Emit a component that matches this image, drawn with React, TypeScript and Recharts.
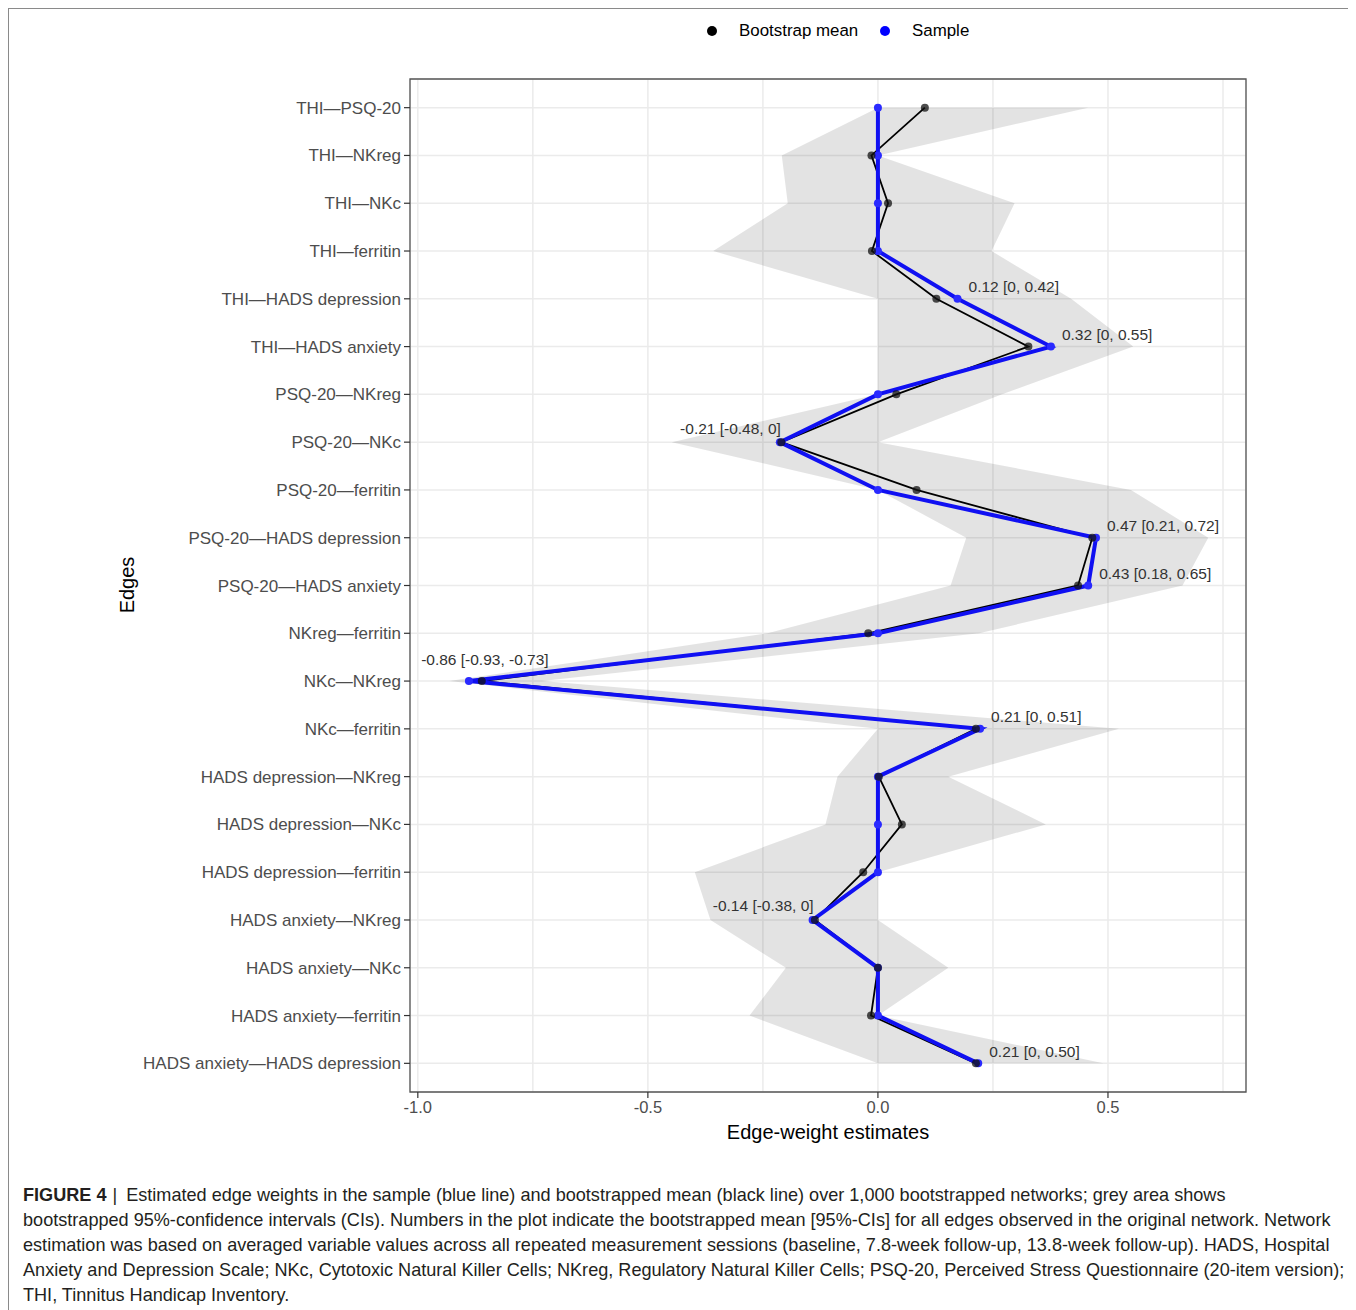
import React from 'react';
import {
  ComposedChart,
  Area,
  Line,
  XAxis,
  YAxis,
  CartesianGrid,
  ReferenceArea,
  LabelList,
} from 'recharts';

// ---------- data ----------
const EDGES = [
  'THI\u2014PSQ-20',
  'THI\u2014NKreg',
  'THI\u2014NKc',
  'THI\u2014ferritin',
  'THI\u2014HADS depression',
  'THI\u2014HADS anxiety',
  'PSQ-20\u2014NKreg',
  'PSQ-20\u2014NKc',
  'PSQ-20\u2014ferritin',
  'PSQ-20\u2014HADS depression',
  'PSQ-20\u2014HADS anxiety',
  'NKreg\u2014ferritin',
  'NKc\u2014NKreg',
  'NKc\u2014ferritin',
  'HADS depression\u2014NKreg',
  'HADS depression\u2014NKc',
  'HADS depression\u2014ferritin',
  'HADS anxiety\u2014NKreg',
  'HADS anxiety\u2014NKc',
  'HADS anxiety\u2014ferritin',
  'HADS anxiety\u2014HADS depression',
];

const SAMPLE = [0, 0, 0, 0, 0.173, 0.376, 0, -0.213, 0, 0.474, 0.457, 0, -0.889, 0.222, 0, 0, 0, -0.142, 0, 0, 0.218];
const BOOT = [0.102, -0.014, 0.022, -0.013, 0.127, 0.327, 0.04, -0.21, 0.084, 0.466, 0.435, -0.021, -0.861, 0.213, 0.002, 0.052, -0.032, -0.137, 0, -0.015, 0.213];
const CI_LOW = [0, -0.209, -0.196, -0.358, 0, 0, 0, -0.448, 0, 0.192, 0.158, -0.24, -0.932, 0, -0.088, -0.114, -0.398, -0.364, -0.2, -0.279, 0];
const CI_HIGH = [0.457, 0, 0.297, 0.247, 0.42, 0.555, 0.27, 0, 0.55, 0.718, 0.662, 0.22, -0.73, 0.524, 0.153, 0.365, 0, 0, 0.153, 0, 0.49];

const LABELS = [
  '', '', '', '',
  '0.12 [0, 0.42]',
  '0.32 [0, 0.55]',
  '',
  '-0.21 [-0.48, 0]',
  '',
  '0.47 [0.21, 0.72]',
  '0.43 [0.18, 0.65]',
  '',
  '-0.86 [-0.93, -0.73]',
  '0.21 [0, 0.51]',
  '', '', '',
  '-0.14 [-0.38, 0]',
  '', '',
  '0.21 [0, 0.50]',
];

const X_TICKS = [-1, -0.75, -0.5, -0.25, 0, 0.25, 0.5, 0.75];
const X_MAJOR = [-1, -0.5, 0, 0.5];
const X_DOMAIN: [number, number] = [-1.017, 0.8];
const Y_TICKS = EDGES.map((_, i) => i);
const Y_DOMAIN: [number, number] = [-0.6, EDGES.length - 1 + 0.6];

const CAPTION_LINES = [
  'Estimated edge weights in the sample (blue line) and bootstrapped mean (black line) over 1,000 bootstrapped networks; grey area shows',
  'bootstrapped 95%-confidence intervals (CIs). Numbers in the plot indicate the bootstrapped mean [95%-CIs] for all edges observed in the original network. Network',
  'estimation was based on averaged variable values across all repeated measurement sessions (baseline, 7.8-week follow-up, 13.8-week follow-up). HADS, Hospital',
  'Anxiety and Depression Scale; NKc, Cytotoxic Natural Killer Cells; NKreg, Regulatory Natural Killer Cells; PSQ-20, Perceived Stress Questionnaire (20-item version);',
  'THI, Tinnitus Handicap Inventory.',
];

const data = EDGES.map((edge, i) => ({
  idx: i,
  edge,
  sample: SAMPLE[i],
  boot: BOOT[i],
  ci: [CI_LOW[i], CI_HIGH[i]],
}));

// ---------- styling ----------
const FONT = '"Liberation Sans", Arial, Helvetica, sans-serif';
const AXIS_TEXT = '#4d4d4d';

const XTick = (props: any) => {
  const { x, y, payload } = props;
  const v = payload.value as number;
  if (!X_MAJOR.some((m) => Math.abs(m - v) < 1e-9)) return <g />;
  return (
    <g>
      <line x1={x} x2={x} y1={y - 9} y2={y - 3} stroke="#333" strokeWidth={1.2} />
      <text x={x} y={y} dy="0.71em" textAnchor="middle" fill={AXIS_TEXT} fontSize={16.5} fontFamily={FONT}>
        {v.toFixed(1)}
      </text>
    </g>
  );
};

const renderLabel = (p: any) => {
  const i = p.index;
  const t = LABELS[i];
  if (!t) return null;
  const v = SAMPLE[i];
  let anchor: 'start' | 'end' | 'middle' = 'start';
  let dx = 11;
  let dy = -12;
  if (v < -0.5) {
    anchor = 'middle';
    dx = 16;
    dy = -22;
  } else if (v < 0) {
    anchor = 'end';
    dx = 1;
    dy = -14;
  }
  return (
    <text
      key={`lbl-${i}`}
      x={p.x + dx}
      y={p.y + dy}
      textAnchor={anchor}
      dominantBaseline="central"
      fontSize={15.5}
      fill="#333"
      fontFamily={FONT}
    >
      {t}
    </text>
  );
};

export default function App() {
  return (
    <div style={{ position: 'relative', width: 1346, height: 1302, fontFamily: FONT }}>
      {/* figure frame */}
      <div
        style={{
          position: 'absolute',
          left: -1,
          top: -1,
          width: 1348,
          height: 1304,
          borderTop: '2px solid #8a8a8a',
          borderLeft: '2px solid #8a8a8a',
          borderRight: '2px solid #8a8a8a',
          boxSizing: 'border-box',
        }}
      />

      {/* legend */}
      <div style={{ position: 'absolute', left: 699, top: 18, width: 10, height: 10, borderRadius: 5, background: '#000' }} />
      <div style={{ position: 'absolute', left: 731, top: 12, fontSize: 16.9, color: '#000', lineHeight: '22px', whiteSpace: 'nowrap' }}>
        Bootstrap mean
      </div>
      <div style={{ position: 'absolute', left: 872, top: 18, width: 10, height: 10, borderRadius: 5, background: '#0000ff' }} />
      <div style={{ position: 'absolute', left: 904, top: 12, fontSize: 16.9, color: '#000', lineHeight: '22px', whiteSpace: 'nowrap' }}>
        Sample
      </div>

      <div style={{ position: 'absolute', left: 0, top: 0 }}>
        <ComposedChart
          width={1346}
          height={1130}
          data={data}
          layout="vertical"
          margin={{ top: 71, right: 108, left: 2, bottom: 6 }}
        >
          <CartesianGrid stroke="#ebebeb" strokeWidth={1.5} />
          <XAxis
            type="number"
            dataKey="sample"
            domain={X_DOMAIN}
            allowDataOverflow
            ticks={X_TICKS}
            interval={0}
            tickLine={false}
            axisLine={false}
            tickSize={6}
            tickMargin={3}
            height={40}
            tick={<XTick />}
          />
          <YAxis
            type="number"
            dataKey="idx"
            domain={Y_DOMAIN}
            allowDataOverflow
            ticks={Y_TICKS}
            interval={0}
            width={400}
            tickSize={6}
            tickMargin={3}
            axisLine={false}
            tickLine={{ stroke: '#333', strokeWidth: 1.2 }}
            tick={{ fill: AXIS_TEXT, fontSize: 17, fontFamily: FONT }}
            tickFormatter={(i: number) => EDGES[i] ?? ''}
          />
          <Area
            type="linear"
            dataKey="ci"
            stroke="none"
            fill="#000"
            fillOpacity={0.11}
            isAnimationActive={false}
            activeDot={false}
          />
          <Line
            type="linear"
            dataKey="boot"
            stroke="#000"
            strokeWidth={1.8}
            dot={false}
            activeDot={false}
            isAnimationActive={false}
          />
          <Line
            type="linear"
            dataKey="sample"
            stroke="#1010f2"
            strokeWidth={4}
            dot={{ r: 4, fill: '#2a2aff', stroke: 'none' }}
            activeDot={false}
            isAnimationActive={false}
          >
            <LabelList dataKey="sample" content={renderLabel} />
          </Line>
          <Line
            type="linear"
            dataKey="boot"
            stroke="transparent"
            strokeWidth={0}
            dot={{ r: 4, fill: '#111', fillOpacity: 0.75, stroke: 'none' }}
            activeDot={false}
            isAnimationActive={false}
          />
          <ReferenceArea
            x1={X_DOMAIN[0]}
            x2={X_DOMAIN[1]}
            y1={Y_DOMAIN[0]}
            y2={Y_DOMAIN[1]}
            fill="none"
            stroke="#555"
            strokeWidth={1.3}
            ifOverflow="visible"
          />
        </ComposedChart>
      </div>

      {/* axis titles */}
      <div
        style={{
          position: 'absolute',
          left: 620,
          width: 400,
          top: 1111,
          textAlign: 'center',
          fontSize: 20,
          color: '#000',
          lineHeight: '26px',
        }}
      >
        Edge-weight estimates
      </div>
      <div
        style={{
          position: 'absolute',
          left: 119,
          top: 577,
          transform: 'translate(-50%, -50%) rotate(-90deg)',
          fontSize: 20,
          color: '#000',
          lineHeight: '26px',
          whiteSpace: 'nowrap',
        }}
      >
        Edges
      </div>

      {/* caption */}
      <div
        style={{
          position: 'absolute',
          left: 15,
          top: 1175,
          fontSize: 18.1,
          lineHeight: '25px',
          color: '#231f20',
          whiteSpace: 'nowrap',
        }}
      >
        {CAPTION_LINES.map((line, i) => (
          <div key={i}>
            {i === 0 ? (
              <>
                <b>FIGURE 4</b>
                <span style={{ margin: '0 9px 0 6px' }}>|</span>
              </>
            ) : null}
            {line}
          </div>
        ))}
      </div>
    </div>
  );
}
